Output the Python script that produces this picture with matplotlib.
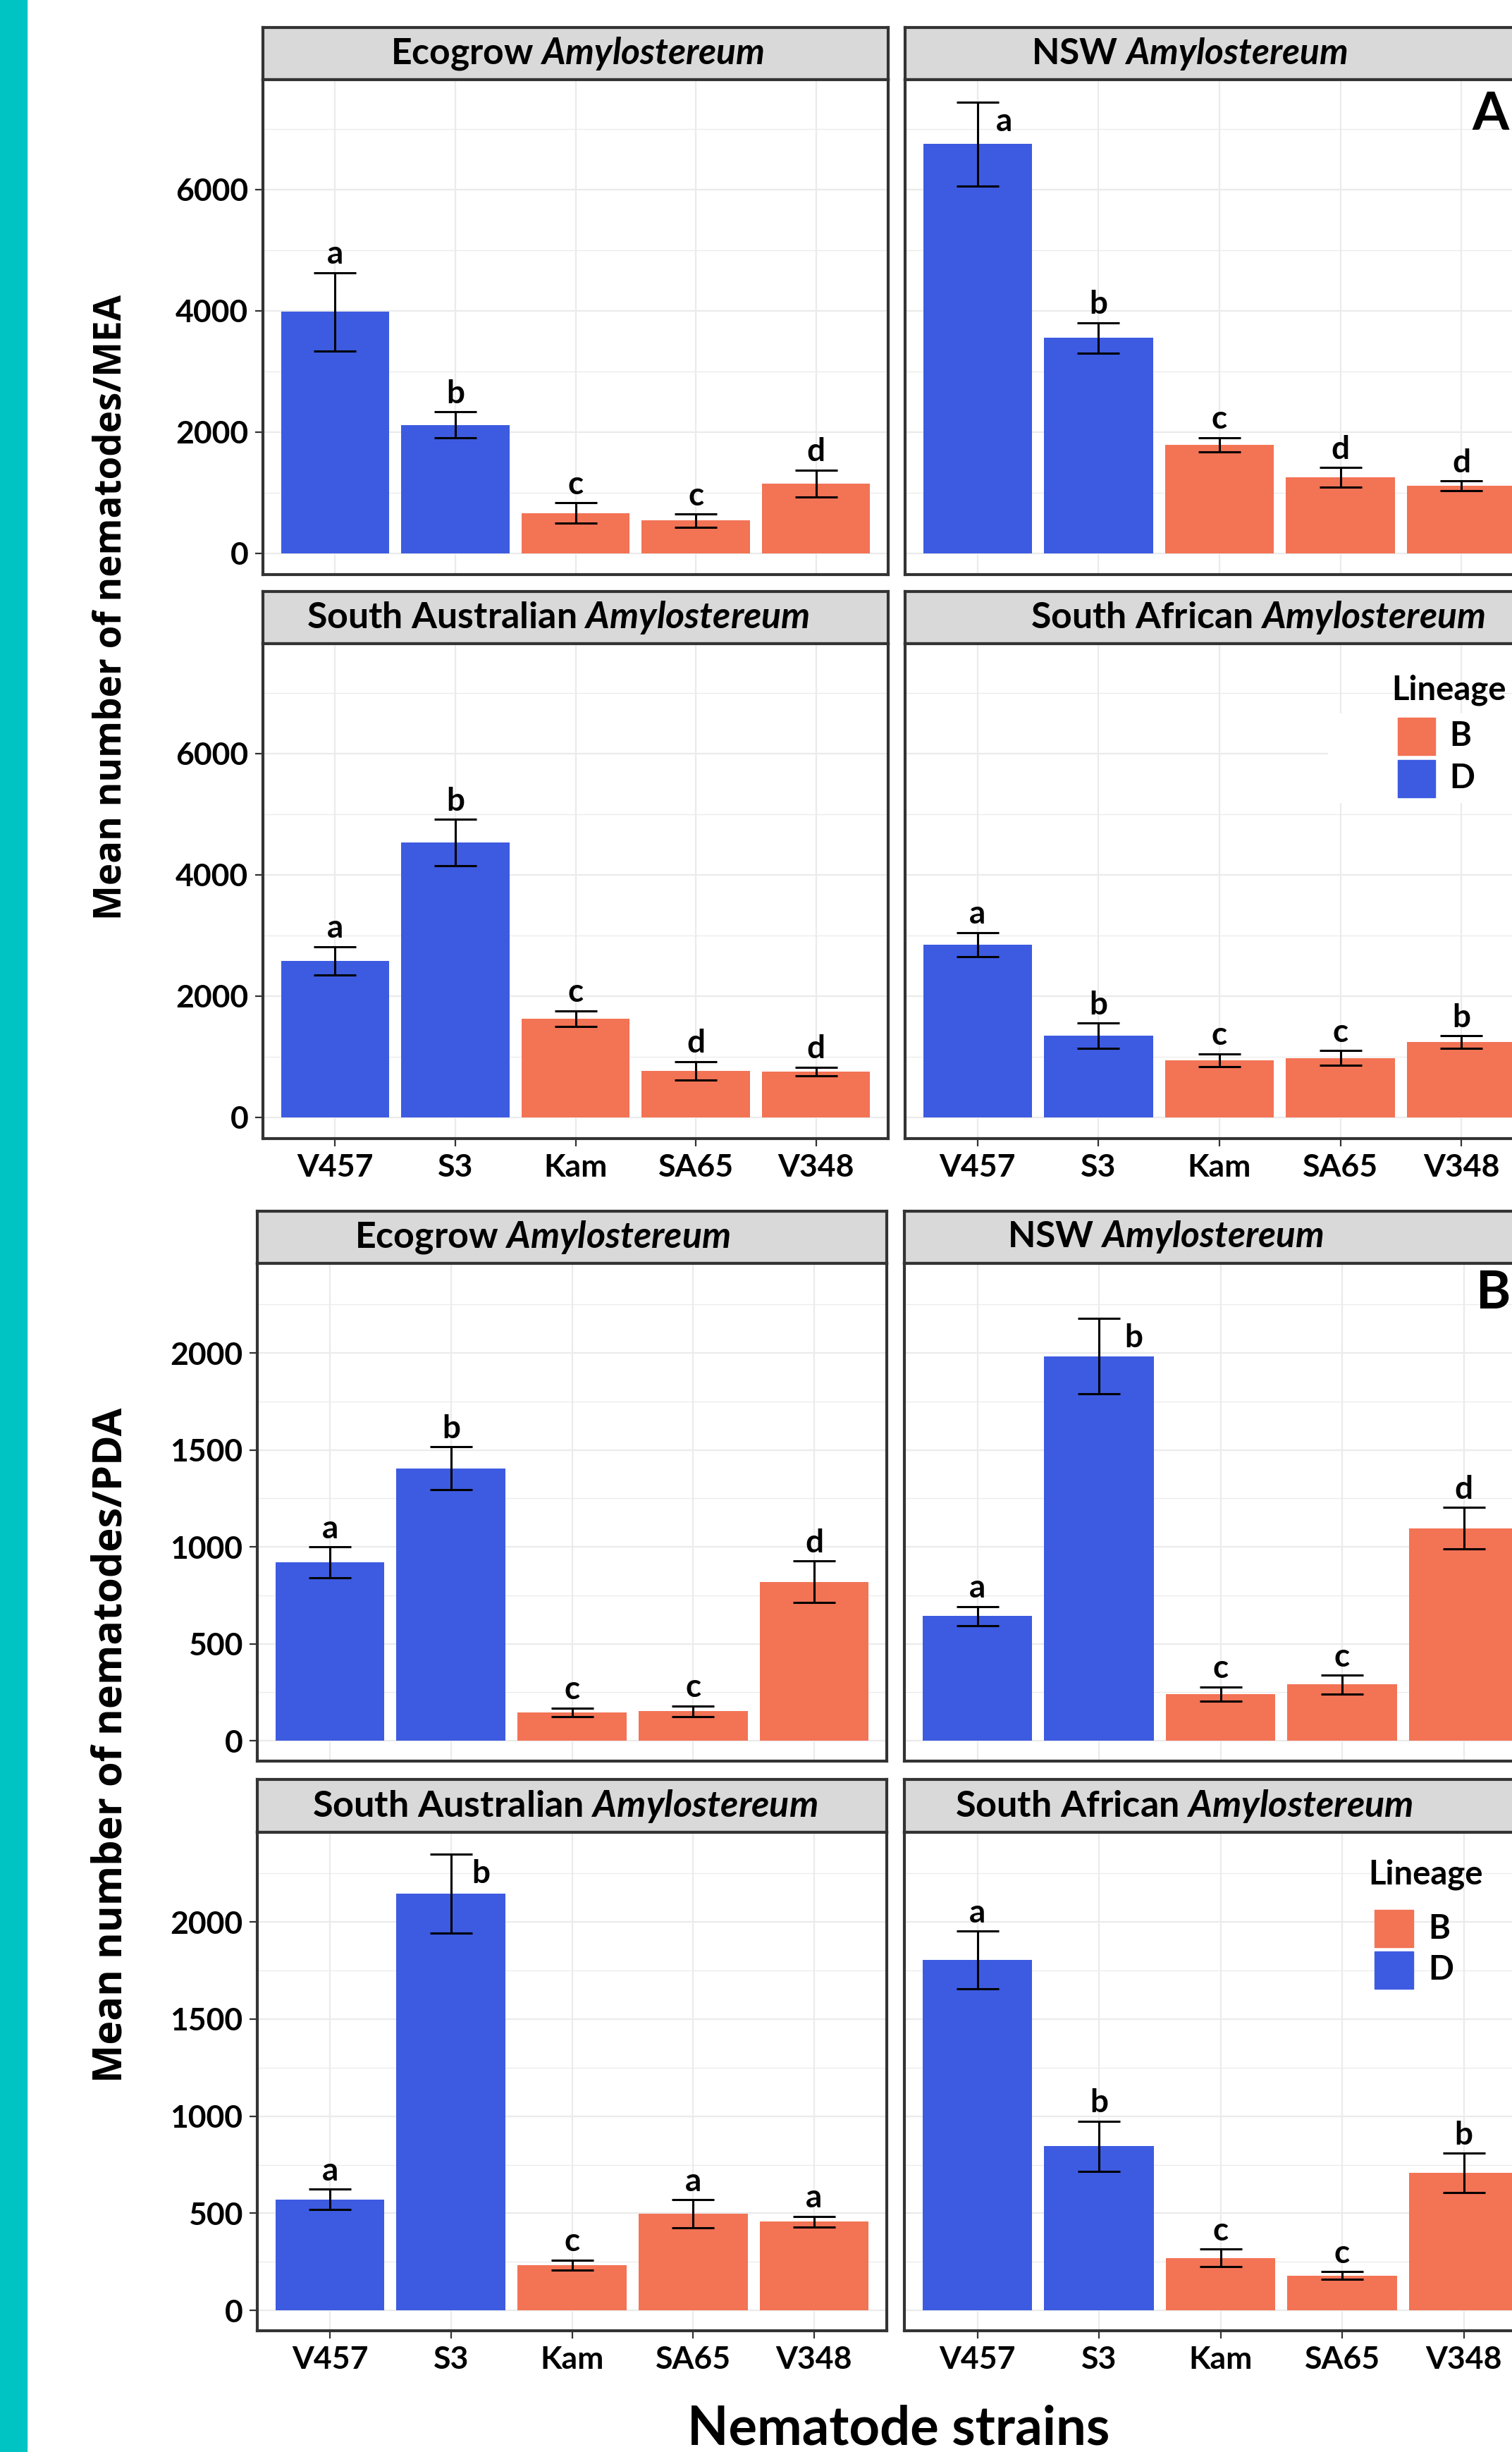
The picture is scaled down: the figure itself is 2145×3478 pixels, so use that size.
import matplotlib
matplotlib.use("Agg")
import matplotlib.pyplot as plt
from matplotlib.patches import Rectangle
import numpy as np

# ---------------- data ----------------
strains = ["V457", "S3", "Kam", "SA65", "V348"]
lineage = ["D", "D", "B", "B", "B"]
isolates = ["Ecogrow", "NSW", "South Australian", "South African"]

# Panel A : nematodes / MEA
mea_ecogrow_mean = [3980, 2120, 667, 540, 1153]
mea_ecogrow_se = [650, 213, 167, 107, 220]
mea_ecogrow_letters = ["a", "b", "c", "c", "d"]

mea_nsw_mean = [6747, 3553, 1793, 1253, 1113]
mea_nsw_se = [693, 250, 117, 160, 83]
mea_nsw_letters = ["a", "b", "c", "d", "d"]

mea_saus_mean = [2580, 4533, 1627, 767, 753]
mea_saus_se = [233, 380, 130, 153, 73]
mea_saus_letters = ["a", "b", "c", "d", "d"]

mea_safr_mean = [2847, 1347, 940, 980, 1240]
mea_safr_se = [200, 207, 107, 120, 103]
mea_safr_letters = ["a", "b", "c", "c", "b"]

# Panel B : nematodes / PDA
pda_ecogrow_mean = [921, 1405, 146, 152, 820]
pda_ecogrow_se = [79, 111, 22, 27, 107]
pda_ecogrow_letters = ["a", "b", "c", "c", "d"]

pda_nsw_mean = [643, 1983, 240, 290, 1096]
pda_nsw_se = [49, 194, 37, 48, 107]
pda_nsw_letters = ["a", "b", "c", "c", "d"]

pda_saus_mean = [571, 2145, 234, 497, 456]
pda_saus_se = [52, 204, 25, 73, 28]
pda_saus_letters = ["a", "b", "c", "a", "a"]

pda_safr_mean = [1805, 846, 270, 179, 707]
pda_safr_se = [148, 129, 45, 20, 102]
pda_safr_letters = ["a", "b", "c", "c", "b"]

mea_yticks = [0, 2000, 4000, 6000]
mea_yminor = [1000, 3000, 5000, 7000]
pda_yticks = [0, 500, 1000, 1500, 2000]
pda_yminor = [250, 750, 1250, 1750, 2250]

# ---------------- style ----------------
W, H, DPI = 2145, 3478, 100
COL = {"D": "#3D5BE1", "B": "#F37355"}
DARK = "#333333"
GRID = "#EBEBEB"
FONT = "Lato"
TITLEFONT = "Open Sans"

plt.rcParams["font.family"] = [FONT, "DejaVu Sans"]
plt.rcParams["font.weight"] = "bold"
plt.rcParams["mathtext.fontset"] = "custom"
plt.rcParams["mathtext.rm"] = "Lato:bold"
plt.rcParams["mathtext.bf"] = "Lato:bold"
plt.rcParams["mathtext.it"] = "Lato:bold:italic"

fig = plt.figure(figsize=(W / DPI, H / DPI), dpi=DPI)
fig.patch.set_facecolor("white")
renderer = fig.canvas.get_renderer()


def add_ax(x0, x1, y0, y1):
    return fig.add_axes([x0 / W, 1 - y1 / H, (x1 - x0) / W, (y1 - y0) / H])


def fit_text(t, target, vertical=False):
    for _ in range(3):
        bb = t.get_window_extent(renderer)
        cur = bb.height if vertical else bb.width
        t.set_fontsize(t.get_fontsize() * target / cur)


fig.patches.append(Rectangle((0, 0), 38 / W, 1, transform=fig.transFigure,
                             color="#00C4C4", zorder=0))


def draw_panel(ax, means, ses, letters, ylim, major, minor, show_x, show_y, right_off):
    x = np.arange(len(strains))
    ax.set_axisbelow(True)
    ax.bar(x, means, width=0.9, color=[COL[l] for l in lineage], zorder=2)
    ax.errorbar(x, means, yerr=ses, fmt="none", ecolor="black", elinewidth=2.2,
                capsize=21.5, capthick=2.2, zorder=3)
    ax.set_xlim(-0.6, 4.6)
    ax.set_ylim(*ylim)
    ax.set_xticks(x)
    ax.set_xticklabels(strains if show_x else [])
    ax.set_yticks(major)
    ax.set_yticklabels([str(v) for v in major] if show_y else [])
    ax.set_yticks(minor, minor=True)
    ax.grid(which="major", color=GRID, lw=1.6)
    ax.grid(which="minor", axis="y", color=GRID, lw=0.9)
    ax.tick_params(which="major", length=8, width=1.6, color=DARK,
                   labelsize=32, pad=7, labelcolor="black")
    ax.tick_params(which="minor", length=0)
    if not show_x:
        ax.tick_params(axis="x", length=0)
    if not show_y:
        ax.tick_params(axis="y", length=0)
    for s in ax.spines.values():
        s.set_color(DARK)
        s.set_linewidth(3)
    for i, (m, s, lab) in enumerate(zip(means, ses, letters)):
        top = m + s
        if top > 0.85 * ylim[1]:
            ax.annotate(lab, (i + right_off, top), xytext=(0, -5),
                        textcoords="offset points", ha="left", va="top",
                        fontsize=33, fontweight="bold")
        else:
            ax.annotate(lab, (i, top), xytext=(0, 9), textcoords="offset points",
                        ha="center", va="baseline", fontsize=33, fontweight="bold")


def draw_strip(x0, x1, y0, y1, name, cx, width):
    ax = add_ax(x0, x1, y0, y1)
    ax.set_facecolor("#D9D9D9")
    ax.set_xticks([])
    ax.set_yticks([])
    ax.set_xlim(x0, x1)
    ax.set_ylim(0, 1)
    for s in ax.spines.values():
        s.set_color(DARK)
        s.set_linewidth(3)
    t = ax.text(cx, 0.5, name + r" $\mathit{Amylostereum}$", ha="center",
                va="center", fontsize=30, fontweight="bold", color="black")
    fit_text(t, width)


# ---------------- layout (pixels) ----------------
panelsets = [
    dict(cols=[(373, 1260), (1284, 2176)],
         rows=[(39, 113, 815), (839, 913, 1615)],
         ylim=(-349, 7808), major=mea_yticks, minor=mea_yminor,
         data=[(mea_ecogrow_mean, mea_ecogrow_se, mea_ecogrow_letters),
               (mea_nsw_mean, mea_nsw_se, mea_nsw_letters),
               (mea_saus_mean, mea_saus_se, mea_saus_letters),
               (mea_safr_mean, mea_safr_se, mea_safr_letters)],
         strip_cx=[819, 1687, 792, 1785], strip_w=[531, 448, 713, 645],
         right_off=[0.15, 0.15, 0.17, 0.17]),
    dict(cols=[(365, 1258), (1283, 2180)],
         rows=[(1718, 1792, 2498), (2524, 2599, 3306)],
         ylim=(-105, 2462), major=pda_yticks, minor=pda_yminor,
         data=[(pda_ecogrow_mean, pda_ecogrow_se, pda_ecogrow_letters),
               (pda_nsw_mean, pda_nsw_se, pda_nsw_letters),
               (pda_saus_mean, pda_saus_se, pda_saus_letters),
               (pda_safr_mean, pda_safr_se, pda_safr_letters)],
         strip_cx=[770, 1653, 802, 1680], strip_w=[532, 449, 717, 649],
         right_off=[0.21, 0.21, 0.17, 0.21]),
]

for ps in panelsets:
    k = 0
    for r, (st, pt, pb) in enumerate(ps["rows"]):
        for c, (x0, x1) in enumerate(ps["cols"]):
            means, ses, letters = ps["data"][k]
            draw_strip(x0, x1, st, pt, isolates[k], ps["strip_cx"][k], ps["strip_w"][k])
            ax = add_ax(x0, x1, pt, pb)
            draw_panel(ax, means, ses, letters, ps["ylim"], ps["major"], ps["minor"],
                       show_x=(r == 1), show_y=(c == 0), right_off=ps["right_off"][k])
            k += 1

# white legend background in panel A
fig.patches.append(Rectangle((1884 / W, 1 - 1138 / H), (2145 - 1884) / W, 126 / H,
                             transform=fig.transFigure, color="white", zorder=5))


def legend(title_xy, key_x, key_w, key_rows, label_x):
    fig.text(title_xy[0] / W, 1 - title_xy[1] / H, "Lineage", ha="left", va="center",
             fontsize=34, fontweight="bold", zorder=6)
    for lab, (ky0, ky1) in zip(["B", "D"], key_rows):
        fig.patches.append(Rectangle((key_x / W, 1 - ky1 / H), key_w / W, (ky1 - ky0) / H,
                                     transform=fig.transFigure, color=COL[lab], zorder=6))
        fig.text(label_x / W, 1 - (ky0 + ky1) / 2 / H, lab, ha="left", va="center",
                 fontsize=34, fontweight="bold", zorder=6)


legend((1974, 979), 1983, 53, [(1018, 1071), (1078, 1131)], 2056)
legend((1941, 2659), 1950, 55, [(2709, 2762), (2768, 2821)], 2026)

# panel letters
fig.text(2114 / W, 1 - 162 / H, "A", ha="center", va="center", fontsize=54, fontweight="bold")
fig.text(2119 / W, 1 - 1835 / H, "B", ha="center", va="center", fontsize=54, fontweight="bold")

# axis titles
t1 = fig.text(158 / W, 1 - 861 / H, "Mean number of nematodes/MEA", rotation=90,
              ha="center", va="center", fontsize=38, fontweight="bold",
              family=[TITLEFONT, "DejaVu Sans"])
fit_text(t1, 885, vertical=True)
t2 = fig.text(158 / W, 1 - 2475 / H, "Mean number of nematodes/PDA", rotation=90,
              ha="center", va="center", fontsize=40, fontweight="bold",
              family=[TITLEFONT, "DejaVu Sans"])
fit_text(t2, 957, vertical=True)
t3 = fig.text(1275 / W, 1 - 3445 / H, "Nematode strains", ha="center", va="center",
              fontsize=52, fontweight="bold")
fit_text(t3, 599)

fig.savefig("out.png", dpi=DPI)
